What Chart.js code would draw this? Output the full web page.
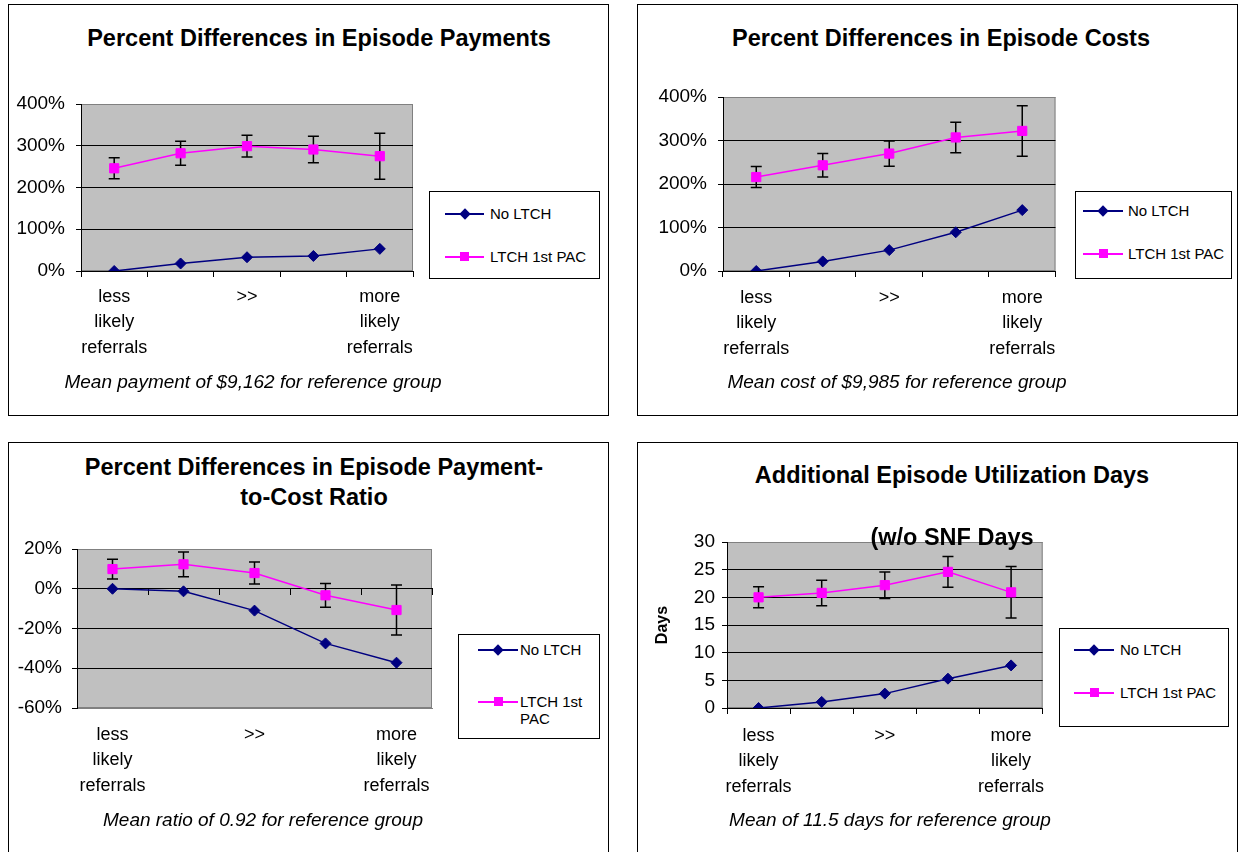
<!DOCTYPE html>
<html>
<head>
<meta charset="utf-8">
<script src="https://cdn.jsdelivr.net/npm/chart.js@4.4.1/dist/chart.umd.min.js"></script>
<style>
  body { margin: 0; width: 1238px; height: 852px; overflow: hidden; background: #fff; position: relative;
         font-family: "Liberation Sans", Arial, sans-serif; color: #000; }
  .panel { position: absolute; border: 1.5px solid #000; box-sizing: border-box; }
  canvas { position: absolute; }
  .title { position: absolute; width: 600px; text-align: center; white-space: nowrap;
           font-weight: bold; font-size: 23.5px; line-height: 30px; }
  .note { position: absolute; width: 400px; text-align: center; white-space: nowrap;
          font-style: italic; font-size: 19px; line-height: 24px; }
  .legend { position: absolute; border: 1px solid #000; background: #fff; box-sizing: border-box; font-size: 15px; }
  .legend div { position: absolute; white-space: nowrap; }
</style>
</head>
<body>
<div class="panel" style="left:8px;top:4px;width:601px;height:412px"></div>
<div class="panel" style="left:637px;top:4px;width:601px;height:412px"></div>
<div class="panel" style="left:8px;top:442px;width:601px;height:420px"></div>
<div class="panel" style="left:637px;top:442px;width:601px;height:420px"></div>

<canvas id="payments"></canvas>
<canvas id="costs"></canvas>
<canvas id="ratio"></canvas>
<canvas id="days"></canvas>

<div class="title" style="left:19px;top:23px">Percent Differences in Episode Payments</div>
<div class="title" style="left:641px;top:23px">Percent Differences in Episode Costs</div>
<div class="title" style="left:14px;top:452px">Percent Differences in Episode Payment-<br>to-Cost Ratio</div>
<div class="title" style="left:652px;top:460px">Additional Episode Utilization Days</div>
<div class="title" style="left:652px;top:522px">(w/o SNF Days</div>

<div class="note" style="left:53px;top:370px">Mean payment of $9,162 for reference group</div>
<div class="note" style="left:697px;top:370px">Mean cost of $9,985 for reference group</div>
<div class="note" style="left:63px;top:808px">Mean ratio of 0.92 for reference group</div>
<div class="note" style="left:690px;top:808px">Mean of 11.5 days for reference group</div>

<script>
const categories = [["less", "likely", "referrals"], "", ">>", "", ["more", "likely", "referrals"]];
const seriesNames = ["No LTCH", "LTCH 1st PAC"];

const payNoLtch = [0, 18, 33, 36, 53];
const payLtch = [246, 282, 299, 291, 275];
const payLtchErr = [25, 29, 26, 32, 55];
const payTicks = [0, 100, 200, 300, 400];

const costNoLtch = [0, 22, 48, 89, 140];
const costLtch = [216, 243, 270, 307, 322];
const costLtchErr = [24, 27, 29, 35, 58];
const costTicks = [0, 100, 200, 300, 400];

const ratioNoLtch = [0, -1.3, -11, -27.5, -37.2];
const ratioLtch = [9.9, 12.3, 7.9, -3.3, -10.7];
const ratioLtchErr = [5, 6.2, 5.5, 6, 12.6];
const ratioTicks = [-60, -40, -20, 0, 20];

const daysNoLtch = [0, 1.1, 2.6, 5.3, 7.7];
const daysLtch = [20.0, 20.8, 22.2, 24.6, 20.9];
const daysLtchErr = [1.9, 2.3, 2.4, 2.8, 4.65];
const daysTicks = [0, 5, 10, 15, 20, 25, 30];

const NAVY = "#000080";
const MAGENTA = "#ff00ff";
const GREY = "#808080";
const FONT = '"Liberation Sans", Arial, sans-serif';

Chart.defaults.font.family = FONT;
Chart.defaults.color = "#000";

// grey plot area with a thin darker frame, like the old Excel charts
const plotBg = {
  id: "plotBg",
  beforeDraw(chart) {
    const { ctx, chartArea: a } = chart;
    ctx.save();
    ctx.fillStyle = "#c0c0c0";
    ctx.fillRect(a.left, a.top, a.width, a.height);
    ctx.strokeStyle = GREY;
    ctx.lineWidth = 1;
    ctx.strokeRect(a.left + 0.5, a.top + 0.5, a.width - 1, a.height - 1);
    ctx.restore();
  },
};

const errorBars = {
  id: "errorBars",
  beforeDatasetsDraw(chart) {
    const { ctx } = chart;
    const y = chart.scales.y;
    chart.data.datasets.forEach((ds, i) => {
      if (!ds.errors) return;
      const meta = chart.getDatasetMeta(i);
      ctx.save();
      ctx.strokeStyle = "#000";
      ctx.lineWidth = 1.5;
      meta.data.forEach((pt, j) => {
        const top = y.getPixelForValue(ds.data[j] + ds.errors[j]);
        const bot = y.getPixelForValue(ds.data[j] - ds.errors[j]);
        ctx.beginPath();
        ctx.moveTo(pt.x, top);
        ctx.lineTo(pt.x, bot);
        ctx.moveTo(pt.x - 5.5, top);
        ctx.lineTo(pt.x + 5.5, top);
        ctx.moveTo(pt.x - 5.5, bot);
        ctx.lineTo(pt.x + 5.5, bot);
        ctx.stroke();
      });
      ctx.restore();
    });
  },
};

function makeChart(id, cfg) {
  const canvas = document.getElementById(id);
  const { box, plot } = cfg;
  canvas.width = box.w;
  canvas.height = box.h;
  canvas.style.left = box.x + "px";
  canvas.style.top = box.y + "px";

  const min = Math.min(...cfg.ticks);
  const max = Math.max(...cfg.ticks);

  const scales = {
    x: {
      offset: true,
      afterFit: (s) => { s.height = cfg.xH; },
      ticks: { autoSkip: false, maxRotation: 0, color: "#000", padding: cfg.xPad,
               font: { size: 18, lineHeight: 1.42 } },
      grid: { offset: true, drawOnChartArea: false, color: "#000", tickLength: 6,
              display: !cfg.zeroAxis, drawTicks: !cfg.zeroAxis },
      border: { color: cfg.zeroAxis ? GREY : "#000" },
    },
    y: {
      min, max,
      afterBuildTicks: (s) => { s.ticks = cfg.ticks.map((v) => ({ value: v })); },
      afterFit: (s) => { s.width = cfg.yW; },
      ticks: { color: "#000", padding: cfg.yPad, font: { size: 19 }, callback: cfg.fmt },
      grid: {
        color: (c) => (c.tick && (c.tick.value === max || c.tick.value === min) ? GREY : "#000"),
        tickColor: "#000",
        tickLength: 5,
      },
      border: { color: "#000" },
      title: cfg.yTitle
        ? { display: true, text: cfg.yTitle, color: "#000", padding: 4, font: { size: 16, weight: "bold" } }
        : { display: false },
    },
  };

  if (cfg.zeroAxis) {
    // category axis crossing at 0 carries the tick marks
    scales.x2 = {
      axis: "x",
      type: "category",
      position: { y: 0 },
      offset: true,
      ticks: { display: false },
      grid: { offset: true, drawOnChartArea: false, color: "#000", tickLength: 6 },
      border: { color: "#000" },
    };
  }

  return new Chart(canvas, {
    type: "line",
    data: {
      labels: categories,
      datasets: [
        {
          label: seriesNames[0],
          data: cfg.noLtch,
          borderColor: NAVY,
          backgroundColor: NAVY,
          borderWidth: 1.5,
          pointStyle: "rectRot",
          pointRadius: 5.5,
          pointBorderWidth: 1,
        },
        {
          label: seriesNames[1],
          data: cfg.ltch,
          errors: cfg.ltchErr,
          borderColor: MAGENTA,
          backgroundColor: MAGENTA,
          borderWidth: 1.5,
          pointStyle: "rect",
          pointRadius: 6.5,
          pointBorderWidth: 1,
        },
      ],
    },
    options: {
      responsive: false,
      animation: false,
      layout: {
        padding: {
          left: plot.l - box.x - cfg.yW,
          top: plot.t - box.y,
          right: box.x + box.w - plot.r,
          bottom: box.y + box.h - plot.b - cfg.xH,
        },
      },
      plugins: { legend: { display: false }, tooltip: { enabled: false } },
      scales,
    },
    plugins: [plotBg, errorBars],
  });
}

function addLegend(box, line, rows) {
  const el = document.createElement("div");
  el.className = "legend";
  Object.assign(el.style, { left: box.x + "px", top: box.y + "px", width: box.w + "px", height: box.h + "px" });
  rows.forEach((r, i) => {
    const color = i === 0 ? NAVY : MAGENTA;
    const ln = document.createElement("div");
    Object.assign(ln.style, {
      left: line.x0 - box.x + "px", top: r.y - box.y - 1 + "px",
      width: line.x1 - line.x0 + "px", height: "1.5px", background: color,
    });
    el.appendChild(ln);
    const mk = document.createElement("div");
    const size = i === 0 ? 8 : 9;
    const cx = (line.x0 + line.x1) / 2 - box.x;
    Object.assign(mk.style, {
      left: cx - size / 2 + "px", top: r.y - box.y - size / 2 - 0.5 + "px",
      width: size + "px", height: size + "px", background: color,
      transform: i === 0 ? "rotate(45deg)" : "none",
    });
    el.appendChild(mk);
    const tx = document.createElement("div");
    Object.assign(tx.style, { left: line.tx - box.x + "px", top: r.y - box.y - 9 + "px", lineHeight: "17px" });
    tx.innerHTML = r.text.join("<br>");
    el.appendChild(tx);
  });
  document.body.appendChild(el);
}

const pct = (v) => v + "%";

makeChart("payments", {
  box: { x: 10, y: 60, w: 415, h: 320 }, plot: { l: 81, t: 104, r: 413, b: 271 },
  yW: 70, yPad: 11, xH: 95, xPad: 7, ticks: payTicks, fmt: pct,
  noLtch: payNoLtch, ltch: payLtch, ltchErr: payLtchErr,
});
makeChart("costs", {
  box: { x: 639, y: 60, w: 425, h: 320 }, plot: { l: 723, t: 97, r: 1058, b: 271 },
  yW: 70, yPad: 11, xH: 95, xPad: 8, ticks: costTicks, fmt: pct,
  noLtch: costNoLtch, ltch: costLtch, ltchErr: costLtchErr,
});
makeChart("ratio", {
  box: { x: 10, y: 520, w: 435, h: 290 }, plot: { l: 77, t: 549, r: 432, b: 708 },
  yW: 66, yPad: 10, xH: 90, xPad: 14, ticks: ratioTicks, fmt: pct, zeroAxis: true,
  noLtch: ratioNoLtch, ltch: ratioLtch, ltchErr: ratioLtchErr,
});
makeChart("days", {
  box: { x: 639, y: 520, w: 415, h: 290 }, plot: { l: 727, t: 542, r: 1045, b: 708 },
  yW: 78, yPad: 7, xH: 90, xPad: 9, ticks: daysTicks, fmt: (v) => v, yTitle: "Days",
  noLtch: daysNoLtch, ltch: daysLtch, ltchErr: daysLtchErr,
});

addLegend({ x: 429, y: 191, w: 171, h: 88 }, { x0: 444, x1: 483, tx: 489 },
  [{ y: 213, text: [seriesNames[0]] }, { y: 256, text: [seriesNames[1]] }]);
addLegend({ x: 1075, y: 191, w: 157, h: 88 }, { x0: 1082, x1: 1122, tx: 1127 },
  [{ y: 210, text: [seriesNames[0]] }, { y: 253, text: [seriesNames[1]] }]);
addLegend({ x: 458, y: 634, w: 142, h: 105 }, { x0: 477, x1: 517, tx: 519 },
  [{ y: 649, text: [seriesNames[0]] }, { y: 701, text: ["LTCH 1st", "PAC"] }]);
addLegend({ x: 1059, y: 628, w: 170, h: 99 }, { x0: 1073, x1: 1113, tx: 1119 },
  [{ y: 649, text: [seriesNames[0]] }, { y: 692, text: [seriesNames[1]] }]);
</script>
</body>
</html>
